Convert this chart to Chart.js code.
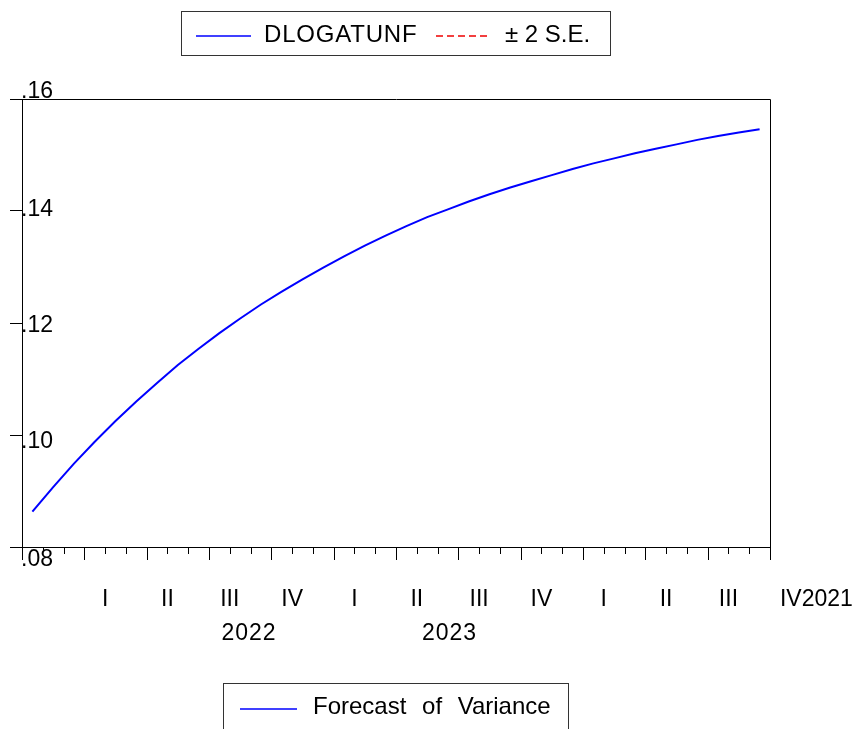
<!DOCTYPE html>
<html>
<head>
<meta charset="utf-8">
<script src="https://cdn.jsdelivr.net/npm/chart.js@4/dist/chart.umd.min.js"></script>
<style>
  html, body { margin: 0; padding: 0; background: #ffffff; }
  #wrap { width: 856px; height: 729px; position: relative; overflow: hidden; }
</style>
</head>
<body>
<div id="wrap"><canvas id="c" width="856" height="729"></canvas></div>
<script>
// Monthly variance forecast, one value per month (36 months)
const variance = [
  0.0863, 0.0907, 0.0949, 0.0988, 0.1025, 0.1060, 0.1093, 0.1125, 0.1154, 0.1182,
  0.1208, 0.1233, 0.1256, 0.1278, 0.1299, 0.1319, 0.1338, 0.1356, 0.1373, 0.1389,
  0.1403, 0.1417, 0.1430, 0.1442, 0.1453, 0.1464, 0.1475, 0.1485, 0.1494, 0.1503,
  0.1511, 0.1519, 0.1527, 0.1534, 0.1540, 0.1546
];

// Quarter and year labels along the time axis (month index where each sits)
const quarterLabels = ['I', 'II', 'III', 'IV', 'I', 'II', 'III', 'IV', 'I', 'II', 'III', 'IV2021'];
const quarterMonths = [4, 7, 10, 13, 16, 19, 22, 25, 28, 31, 34, 37];
const yearLabels = ['2022', '2023'];
const yearMonths = [10.9, 20.55];

// Value axis
const yTickValues = [0.08, 0.10, 0.12, 0.14, 0.16];
const yTickLabels = ['.08', '.10', '.12', '.14', '.16'];

// Legend texts
const seriesName = 'Forecast of Variance';
const headerNames = ['DLOGATUNF', '\u00B1 2 S.E.'];

const FONT = '"Liberation Sans", Arial, sans-serif';

const framePlugin = {
  id: 'frame',
  afterDraw(chart, args, opts) {
    const ctx = chart.ctx;
    const a = chart.chartArea;
    const xs = chart.scales.x;
    const ys = chart.scales.y;
    ctx.save();
    ctx.strokeStyle = '#000';
    ctx.lineWidth = 1;

    // month ticks below the axis, longer at quarter boundaries
    for (let m = 0; m <= 36; m++) {
      const px = Math.round(xs.getPixelForValue(m)) + 0.5;
      const len = (m % 3 === 0) ? 13 : 7;
      ctx.beginPath();
      ctx.moveTo(px, a.bottom);
      ctx.lineTo(px, a.bottom + len);
      ctx.stroke();
    }

    // value labels sit just right of the axis
    ctx.font = '23px ' + FONT;
    ctx.textBaseline = 'middle';
    ctx.textAlign = 'right';
    yTickLabels.forEach((t, k) => {
      const py = ys.getPixelForValue(yTickValues[k]) + opts.yLabelShift[k];
      const digits = t.slice(1);
      const w = ctx.measureText(digits).width;
      ctx.fillStyle = '#fff';
      ctx.fillRect(opts.yLabelRight - w, py - 9, w, 19);
      ctx.fillStyle = '#000';
      ctx.fillText(t, opts.yLabelRight, py);
    });

    // plot frame
    ctx.beginPath();
    ctx.rect(Math.round(a.left) + 0.5, Math.round(a.top) + 0.5,
             Math.round(a.right - a.left), Math.round(a.bottom - a.top));
    ctx.stroke();

    // quarter labels
    ctx.textAlign = 'left';
    quarterLabels.forEach((t, k) => {
      const px = xs.getPixelForValue(quarterMonths[k]);
      const roman = t.match(/^[IV]+/)[0];
      const w = ctx.measureText(roman).width;
      ctx.fillText(t, px - w / 2, opts.quarterY);
    });
    // year labels
    ctx.textAlign = 'center';
    ctx.letterSpacing = '1px';
    yearLabels.forEach((t, k) => {
      ctx.fillText(t, xs.getPixelForValue(yearMonths[k]) + 0.5, opts.yearY);
    });
    ctx.letterSpacing = '0px';

    // header legend box
    ctx.font = '24px ' + FONT;
    ctx.lineWidth = 1;
    ctx.strokeStyle = '#333';
    ctx.strokeRect(181.5, 11.5, 429, 44);
    ctx.lineWidth = 1.5;
    ctx.strokeStyle = '#0000ff';
    ctx.beginPath(); ctx.moveTo(196, 36); ctx.lineTo(251, 36); ctx.stroke();
    ctx.fillStyle = '#000';
    ctx.textAlign = 'left';
    ctx.letterSpacing = '0.8px';
    ctx.fillText(headerNames[0], 264, 35);
    ctx.letterSpacing = '0px';
    ctx.strokeStyle = '#ee0000';
    ctx.setLineDash([7, 4]);
    ctx.beginPath(); ctx.moveTo(436, 36); ctx.lineTo(491, 36); ctx.stroke();
    ctx.setLineDash([]);
    ctx.fillText(headerNames[1], 505, 35);

    // series legend box
    const ds = chart.data.datasets[0];
    ctx.lineWidth = 1;
    ctx.strokeStyle = '#333';
    ctx.strokeRect(223.5, 683.5, 345, 60);
    ctx.strokeStyle = ds.borderColor;
    ctx.lineWidth = 1.5;
    ctx.beginPath(); ctx.moveTo(240, 709); ctx.lineTo(297, 709); ctx.stroke();
    ctx.fillStyle = '#000';
    ctx.wordSpacing = '9px';
    ctx.fillText(ds.label, 313, 707);
    ctx.wordSpacing = '0px';
    ctx.restore();
  }
};

new Chart(document.getElementById('c'), {
  type: 'line',
  data: {
    datasets: [{
      label: seriesName,
      data: variance.map((v, i) => ({ x: i + 0.5, y: v })),
      borderColor: '#0000ff',
      borderWidth: 2,
      pointRadius: 0,
      tension: 0,
      fill: false
    }]
  },
  options: {
    responsive: false,
    animation: false,
    layout: { padding: { left: 0, top: 99, right: 86, bottom: 182 } },
    plugins: {
      legend: { display: false },
      tooltip: { enabled: false },
      frame: { yLabelRight: 53, yLabelShift: [13, 7, 3, -1, -7], quarterY: 600, yearY: 634 }
    },
    scales: {
      x: { type: 'linear', min: 0, max: 36, display: false },
      y: {
        min: 0.08, max: 0.16,
        afterFit(s) { s.width = 22; },
        ticks: { display: false, stepSize: 0.02 },
        grid: { drawOnChartArea: false, tickLength: 12, color: '#000', lineWidth: 1 },
        border: { color: '#000', width: 1 }
      }
    }
  },
  plugins: [framePlugin]
});
</script>
</body>
</html>
